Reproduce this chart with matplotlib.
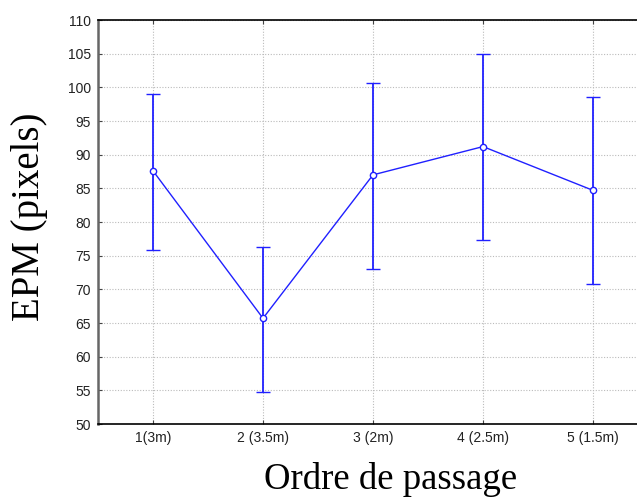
import numpy as np
import matplotlib
matplotlib.use('Agg')
import matplotlib.pyplot as plt

# values
labels = ['1(3m)', '2 (3.5m)', '3 (2m)', '4 (2.5m)', '5 (1.5m)']
means = [87.6, 65.7, 87.0, 91.2, 84.7]
lower = [75.8, 54.8, 73.0, 77.3, 70.8]
upper = [99.0, 76.3, 100.7, 105.0, 98.5]

x = np.arange(1, len(labels) + 1)
err = [np.array(means) - np.array(lower), np.array(upper) - np.array(means)]

fig = plt.figure(figsize=(6.37, 4.98), dpi=100)
ax = fig.add_axes([98/637, 74/498, 539/637, 404/498])

ax.errorbar(x, means, yerr=err, color='#2020ff', lw=1.0, elinewidth=1.3,
            capsize=5, capthick=1.3, marker='o', ms=4.5, mfc='white',
            mec='#2020ff', mew=1.0)

ax.set_ylim(50, 110)
ax.set_yticks(np.arange(50, 111, 5))
ax.set_xlim(0.5, 5.4)
ax.set_xticks(x)
ax.set_xticklabels(labels)

ax.grid(True, ls=(0, (1, 1.5)), color='#bbbbbb', lw=0.8)
ax.set_axisbelow(True)
ax.tick_params(direction='in', length=3, labelsize=10, labelcolor='#222222',
               top=True, color='#444444')
for t in ax.get_xticklabels() + ax.get_yticklabels():
    t.set_family('Liberation Sans')
ax.tick_params(axis='y', pad=5)
ax.tick_params(axis='x', pad=5)

ax.spines['right'].set_visible(False)
ax.spines['left'].set_color('#666666')
ax.spines['left'].set_linewidth(1.8)
ax.spines['top'].set_linewidth(1.2)
ax.spines['bottom'].set_linewidth(1.2)

ax.set_xlabel('Ordre de passage', family='Liberation Serif', fontsize=26.5)
ax.set_ylabel('EPM (pixels)', family='Liberation Serif', fontsize=28)
ax.xaxis.set_label_coords(0.543, -0.095)
ax.yaxis.set_label_coords(-0.092, 0.513)

plt.savefig('out.png', dpi=100)
